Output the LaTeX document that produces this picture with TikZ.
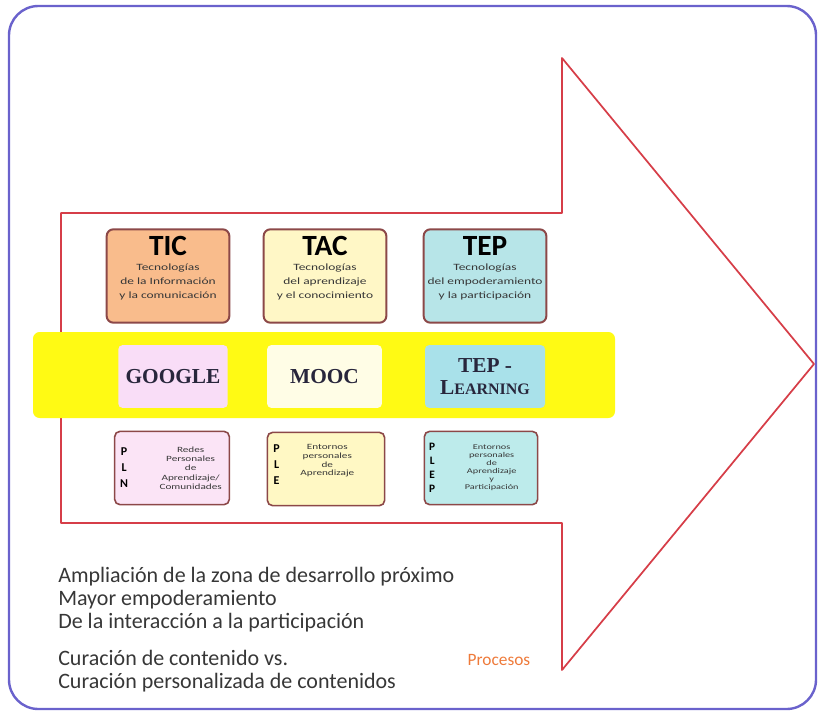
\documentclass[tikz,border=0pt]{standalone}
\usepackage{fontspec}
\setmainfont{Carlito}
\newfontfamily\midfont{Liberation Serif}
\newfontfamily\widefont[FakeStretch=1.4]{Carlito}
\usepackage{tikz}
\usetikzlibrary{shapes,arrows,positioning}
\usepackage{xcolor}
\definecolor{framec}{RGB}{106,98,204}
\definecolor{arrowc}{RGB}{214,62,72}
\definecolor{bandc}{RGB}{255,250,20}
\definecolor{boxline}{RGB}{140,72,72}
\definecolor{ticfill}{RGB}{249,188,140}
\definecolor{tacfill}{RGB}{255,247,198}
\definecolor{tepfill}{RGB}{183,229,232}
\definecolor{gofill}{RGB}{249,221,247}
\definecolor{mofill}{RGB}{255,253,230}
\definecolor{tlfill}{RGB}{169,225,234}
\definecolor{plnfill}{RGB}{251,228,246}
\definecolor{plefill}{RGB}{255,248,196}
\definecolor{plepfill}{RGB}{189,235,235}
\definecolor{midtext}{RGB}{40,38,60}
\definecolor{bodytext}{RGB}{55,55,55}
\definecolor{procc}{RGB}{238,122,58}

\begin{document}
\begin{tikzpicture}[x=0.75pt,y=-0.75pt,
        topbox/.style={draw=boxline, line width=1.5pt, rounded corners=5pt, minimum width=92pt, minimum height=70pt},
        toptitle/.style={inner sep=0pt, font=\bfseries\fontsize{22}{24}\selectfont},
        topsub/.style={anchor=north, align=center, inner sep=0pt, text=bodytext, font=\widefont\fontsize{7.2}{10.5}\selectfont},
        midbox/.style={rounded corners=3pt, align=center, minimum width=82pt, minimum height=47pt,
            font=\midfont\bfseries\fontsize{16}{16.5}\selectfont, text=midtext},
        lowbox/.style={draw=boxline, line width=1.2pt, rounded corners=4pt, minimum width=86pt, minimum height=55pt},
        letters/.style={anchor=west, align=center, inner sep=0pt, font=\bfseries\fontsize{9}{12}\selectfont},
        tinytext/.style={align=center, inner sep=0pt, text=bodytext, font=\widefont\fontsize{6}{7}\selectfont},
        bodyline/.style={anchor=west, align=left, inner sep=0pt, text=bodytext, font=\fontsize{16.5}{17.3}\selectfont}]
        \useasboundingbox (0,0) rectangle (821,715);

        % Frame
        \draw[framec, line width=1.8pt, rounded corners=22pt] (9,6) rectangle (816,709);

        % Arrow
        \draw[arrowc, line width=1.3pt, line join=round] (61,213) -- (562,213) -- (562,58) -- (814,364)
            -- (562,670) -- (562,523) -- (61,523) -- cycle;

        % Yellow band
        \fill[bandc, rounded corners=5pt] (33,332) rectangle (615,418);

        % Top row
        \node[topbox, fill=ticfill] (tic) at (168,276) {};
        \node[toptitle] (tictitle) at ([yshift=-13pt]tic.north) {TIC};
        \node[topsub] (ticsub) at ([yshift=-26.5pt]tic.north) {Tecnologías\\de la Información\\y la comunicación};

        \node[topbox, fill=tacfill] (tac) at (325,276) {};
        \node[toptitle] (tactitle) at ([yshift=-13pt]tac.north) {TAC};
        \node[topsub] (tacsub) at ([yshift=-26.5pt]tac.north) {Tecnologías\\del aprendizaje\\y el conocimiento};

        \node[topbox, fill=tepfill] (tep) at (485,276) {};
        \node[toptitle] (teptitle) at ([yshift=-13pt]tep.north) {TEP};
        \node[topsub] (tepsub) at ([yshift=-26.5pt]tep.north) {Tecnologías\\del empoderamiento\\y la participación};

        % Middle row
        \node[midbox, fill=gofill] (google) at (173,376.5) {GOOGLE};
        \node[midbox, fill=mofill, minimum width=86pt] (mooc) at (324.5,376.5) {MOOC};
        \node[midbox, fill=tlfill, minimum width=90pt] (teplearn) at (485,376.5) {TEP -\\L{\fontsize{12}{13}\selectfont EARNING}};

        % Bottom row
        \node[lowbox, fill=plnfill] (pln) at (172,468) {};
        \node[letters] (plnlet) at ([xshift=4.5pt]pln.west) {P\\L\\N};
        \node[tinytext] (plntxt) at ([xshift=14pt]pln.center) {Redes\\Personales\\de\\Aprendizaje/\\Comunidades};

        \node[lowbox, fill=plefill, minimum width=88pt] (ple) at (326,469) {};
        \node[letters] (plelet) at ([xshift=5pt,yshift=3pt]ple.west) {P\\L\\E};
        \node[tinytext, font=\widefont\fontsize{6}{6.5}\selectfont] (pletxt) at ([xshift=1pt,yshift=6pt]ple.center) {Entornos\\personales\\de\\Aprendizaje};

        \node[lowbox, fill=plepfill, minimum width=85pt] (plep) at (481,468) {};
        \node[letters, font=\bfseries\fontsize{8.5}{10.5}\selectfont] (pleplet) at ([xshift=4pt]plep.west) {P\\L\\E\\P};
        \node[tinytext, font=\widefont\fontsize{5.5}{6}\selectfont] (pleptxt) at ([xshift=8pt]plep.center) {Entornos\\personales\\de\\Aprendizaje\\y\\Participación};

        % Texts below the arrow body
        \node[bodyline] (ampl) at (58,600) {Ampliación de la zona de desarrollo próximo\\Mayor empoderamiento\\De la interacción a la participación};
        \node[bodyline] (cura) at (58,671) {Curación de contenido vs.\\Curación personalizada de contenidos};
        \node[text=procc, font=\fontsize{13}{15}\selectfont] (proc) at (499,660) {Procesos};
    \end{tikzpicture}
\end{document}
